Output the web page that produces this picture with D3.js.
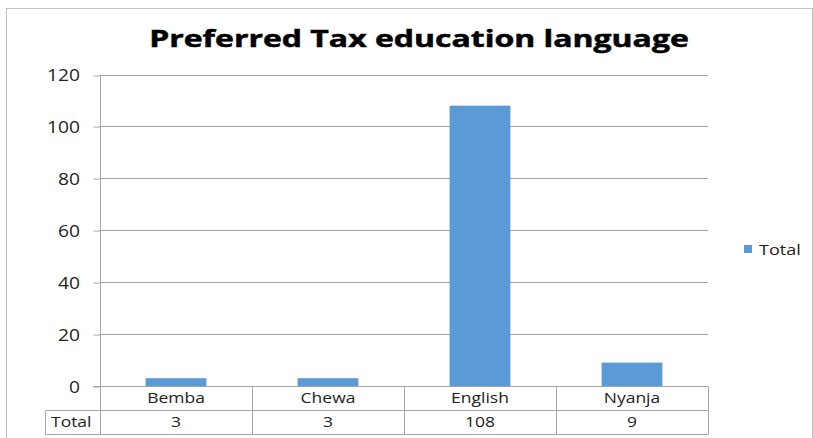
<!DOCTYPE html>
<html>
<head>
<meta charset="utf-8">
<script src="https://cdn.jsdelivr.net/npm/d3@7"></script>
<style>
  html, body { margin: 0; padding: 0; background: #fff; }
  svg { display: block; }
  text { font-family: "Open Sans", "DejaVu Sans", sans-serif; fill: #222; }
</style>
</head>
<body>
<svg id="chart" width="813" height="438"></svg>
<script>
// Chart data
const title = "Preferred Tax education language";
const categories = ["Bemba", "Chewa", "English", "Nyanja"];
const seriesName = "Total";
const values = [3, 3, 108, 9];
const yTicks = [0, 20, 40, 60, 80, 100, 120];

const svg = d3.select("#chart");
const W = 813, H = 438;
const plot = { left: 100, right: 708, top: 74.5, bottom: 386 };
const rowH = 24;
const tableLeft = 45.5;
const barColor = "#5B9BD5";
const gridColor = "#a6a6a6";
const wide = 1.25;   // horizontal stretch for the label typeface

// Position a text node at (x, y) and stretch it horizontally by s
function place(sel, x, y, s) {
  return sel.attr("x", 0).attr("y", 0)
    .attr("transform", (d, i) => {
      const xx = typeof x === "function" ? x(d, i) : x;
      const yy = typeof y === "function" ? y(d, i) : y;
      return `translate(${xx},${yy}) scale(${s},1)`;
    });
}

// Chart frame
svg.append("rect")
  .attr("x", 6.5).attr("y", 8.5)
  .attr("width", W - 7).attr("height", H)
  .attr("fill", "none").attr("stroke", "#bfbfbf");

// Title, stretched to its target width
const t = svg.append("text")
  .attr("text-anchor", "middle")
  .style("font-weight", "bold")
  .style("font-size", "23.5px")
  .style("fill", "#000")
  .style("stroke", "#000")
  .style("stroke-width", "0.5px")
  .text(title);
const tw = t.node().getComputedTextLength();
place(t, 419, 47, 540 / tw);

const x = d3.scaleBand().domain(categories).range([plot.left, plot.right]).paddingInner(0).paddingOuter(0);
const y = d3.scaleLinear().domain([0, 120]).range([plot.bottom, plot.top]);

// Gridlines
svg.append("g").selectAll("line").data(yTicks.filter(d => d > 0)).join("line")
  .attr("x1", plot.left).attr("x2", plot.right)
  .attr("y1", d => Math.round(y(d)) + 0.5).attr("y2", d => Math.round(y(d)) + 0.5)
  .attr("stroke", gridColor);

// Y axis
const yAxis = svg.append("g")
  .attr("transform", `translate(${plot.left + 0.5},0)`)
  .call(d3.axisLeft(y).tickValues(yTicks).tickSize(7).tickPadding(13));
yAxis.select(".domain").attr("stroke", gridColor).attr("d", `M0,${plot.top}V${plot.bottom}`);
yAxis.selectAll(".tick line").attr("stroke", gridColor)
  .attr("transform", d => `translate(0,${Math.round(y(d)) + 0.5 - y(d)})`);
place(yAxis.selectAll(".tick text"), -20.5, 0.5, 1.2)
  .attr("dy", "0.35em")
  .style("font-family", "'Open Sans', sans-serif")
  .style("font-size", "16px").style("fill", "#222");

// Bars
const bw = x.bandwidth() * 0.4;
svg.append("g").selectAll("rect").data(values).join("rect")
  .attr("x", (d, i) => x(categories[i]) + (x.bandwidth() - bw) / 2)
  .attr("y", d => y(d))
  .attr("width", bw)
  .attr("height", d => plot.bottom - y(d))
  .attr("fill", barColor);

// Data table below the axis
const tg = svg.append("g");
const yb = Math.round(plot.bottom) + 0.5;
tg.append("line").attr("x1", plot.left - 7).attr("x2", plot.right).attr("y1", yb).attr("y2", yb).attr("stroke", gridColor);
tg.append("line").attr("x1", tableLeft).attr("x2", plot.right).attr("y1", yb + rowH).attr("y2", yb + rowH).attr("stroke", gridColor);
tg.append("line").attr("x1", tableLeft).attr("x2", plot.right).attr("y1", yb + 2 * rowH).attr("y2", yb + 2 * rowH).attr("stroke", gridColor);
tg.append("line").attr("x1", tableLeft).attr("x2", tableLeft).attr("y1", yb + rowH).attr("y2", yb + 2 * rowH).attr("stroke", gridColor);
const bounds = categories.map(c => x(c)).concat([plot.right]);
tg.selectAll("line.v").data(bounds).join("line").attr("class", "v")
  .attr("x1", d => Math.round(d) + 0.5).attr("x2", d => Math.round(d) + 0.5)
  .attr("y1", yb).attr("y2", yb + 2 * rowH)
  .attr("stroke", gridColor);

place(tg.selectAll("text.cat").data(categories).join("text").attr("class", "cat"),
      d => x(d) + x.bandwidth() / 2, yb + 16.5, wide)
  .attr("text-anchor", "middle")
  .style("font-size", "14px")
  .text(d => d);
place(tg.selectAll("text.val").data(values).join("text").attr("class", "val"),
      (d, i) => x(categories[i]) + x.bandwidth() / 2, yb + rowH + 16.5, wide)
  .attr("text-anchor", "middle")
  .style("font-size", "14px")
  .text(d => d);
place(tg.append("text"), 51, yb + rowH + 16.5, wide)
  .style("font-size", "14px")
  .text(seriesName);

// Legend
const lg = svg.append("g").attr("transform", "translate(744,245)");
lg.append("rect").attr("x", 0).attr("y", 0).attr("width", 8).attr("height", 8).attr("fill", barColor);
place(lg.append("text"), 15, 9.5, 1.29).style("font-size", "14px").text(seriesName);
</script>
</body>
</html>
